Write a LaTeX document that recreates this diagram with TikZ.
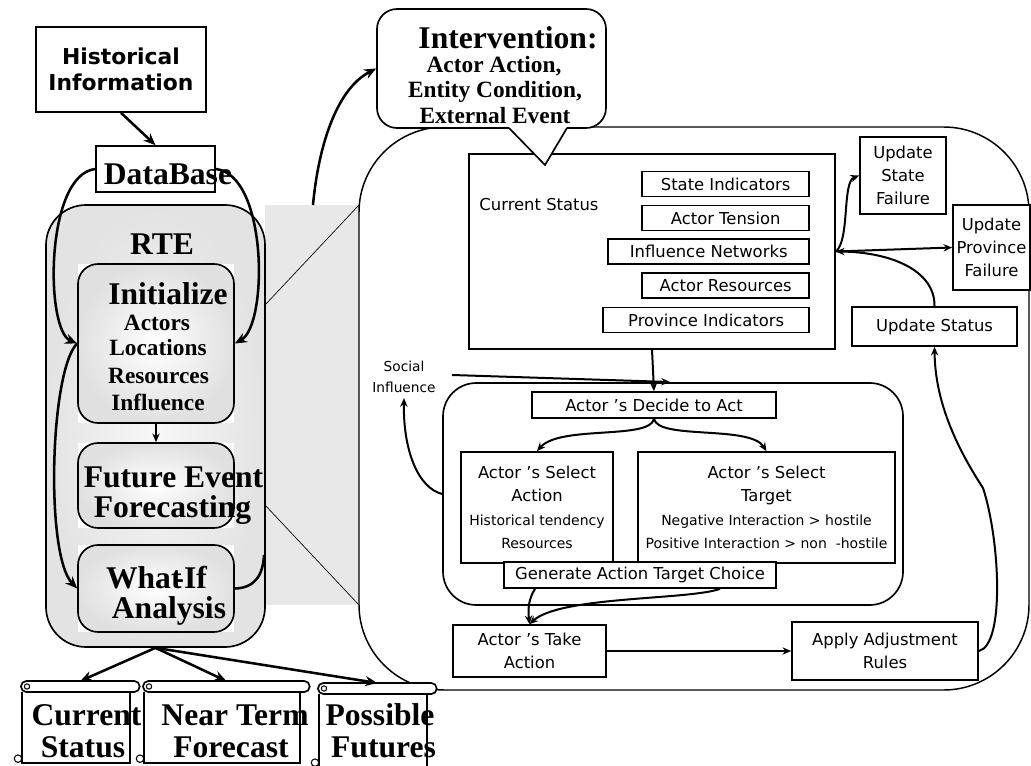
\documentclass[tikz,border=0pt]{standalone}
\usepackage{fontspec}
\setmainfont{Liberation Serif}
\newfontfamily\verd{DejaVu Sans}
\usetikzlibrary{arrows.meta}
\usetikzlibrary{calc}
\newcommand\smtxt{\fontsize{10.5}{15}\selectfont}

\begin{document}
\begin{tikzpicture}[x=0.75pt, y=-0.75pt, line width=1.25pt,
		sz/.style 2 args={minimum width=#1*0.75pt, minimum height=#2*0.75pt},
		box/.style={draw, fill=white, inner sep=0pt, align=center, font=\verd\fontsize{12.3}{17.5}\selectfont},
		stage/.style={draw, rounded corners=15pt, inner color=white, outer color=gray!24},
		big/.style={font=\bfseries\fontsize{23.7}{26}\selectfont, inner sep=0pt},
		mid/.style={font=\bfseries\fontsize{17.5}{20}\selectfont, inner sep=0pt},
		arr/.style={line width=1.9pt, -{Stealth[length=9pt, width=7.5pt]}},
		arrsm/.style={line width=1.5pt, -{Stealth[length=6.5pt, width=5.5pt]}},
		zoomln/.style={line width=0.5pt}]
	\useasboundingbox (0,0) rectangle (1031,766);
	\fill[gray!18] (265,205) rectangle (359,605);
	\draw[zoomln] (265,305) -- (359,205);
	\draw[zoomln] (265,505) -- (359,605);
	\coordinate (gtop) at (313,205);
	\node[draw, rounded corners=30pt, inner color=gray!6, outer color=gray!22, sz={219}{442}] (rte) at (155.5,426) {};
	\foreach \n/\y/\h in {init/343.5/159, fut/485.5/85, whatif/588.5/87} {
		\fill[white] (78,\y-\h/2) rectangle (234,\y+\h/2);
		\node[stage, sz={156}{\h}] (\n) at (156,\y) {};
	}
	\node[box, sz={170}{85}, font=\verd\bfseries\fontsize{16.4}{20}\selectfont] (hist) at (121,69.5) {Historical\\Information};
	\node[box, sz={119}{46}] (db) at (155.5,169) {};
	\node[draw, fill=white, line width=1.1pt, rounded corners=64pt, sz={670}{563}] (model) at (694,408.5) {};
	\node[box, sz={366}{195}] (cur) at (652,251.5) {};
	\node[font=\verd\fontsize{12.3}{14}\selectfont] (curlbl) at (539,205) {Current Status};
	\foreach \t/\w/\y [count=\i] in {State Indicators/167/184, Actor Tension/167/218, Influence Networks/201/251.5, Actor Resources/167/285.5, Province Indicators/206/320}
		\node[box, sz={\w}{25}, anchor=east] (ind\i) at (810,\y) {\t};
	\node[box, sz={86}{77}] (upstate) at (903,175.5) {Update\\State\\Failure};
	\node[box, sz={77}{85}] (upprov) at (991.5,247.5) {Update\\Province\\Failure};
	\node[box, sz={165}{39}] (upstatus) at (934.5,326.5) {Update Status};
	\node[draw, rounded corners=25pt, sz={460}{222}] (inner) at (673,494) {};
	\node[box, sz={244}{26}] (decide) at (654,405) {Actor ’s Decide to Act};
	\node[box, sz={152}{111}] (selact) at (537,507.5) {Actor ’s Select\\Action\\ \smtxt Historical tendency\\ \smtxt Resources};
	\node[box, sz={257}{111}] (seltgt) at (766.5,507.5) {Actor ’s Select\\Target\\ \smtxt Negative Interaction > hostile\\ \smtxt Positive Interaction > non~~-hostile};
	\node[box, sz={272}{26}] (gen) at (640,575) {Generate Action Target Choice};
	\node[box, sz={153}{52}] (take) at (529.5,651) {Actor ’s Take\\Action};
	\node[box, sz={186}{58}] (apply) at (885,651) {Apply Adjustment\\Rules};
	\node[align=center, font=\verd\fontsize{10.3}{15.75}\selectfont] (social) at (404,377) {Social\\Influence};
	\coordinate (sfrom) at (452,375);
	\coordinate (sto) at (670,382);
	% intervention callout
	\node[sz={229}{119}] (interv) at (491.5,68.5) {};
	\draw[fill=white, rounded corners=15pt] (377,9) rectangle (606,128);
	\fill[white] (509,127) -- (545,165) -- (567,127) -- cycle;
	\draw (509,128) -- (545,165) -- (567,128);
	% scrolls
	\foreach \n/\x/\w/\y/\h in {s1/21/117/681/80, s2/143/165/681/80, s3/318/117/683/82} {
		\node[sz={\w}{\h}, anchor=north west, inner sep=0pt] (\n) at (\x,\y) {};
		\draw[fill=white] ($(\n.north west)+(1,11)$) -- ($(\n.south west)+(1,0)$) -- ($(\n.south east)+(-10,0)$) -- ($(\n.north east)+(-10,11)$);
		\draw[fill=white, rounded corners=4pt] (\n.north west) rectangle ($(\n.north east)+(0,11)$);
		\draw[line width=0.8pt] ($(\n.north west)+(6,5.5)$) circle (2pt);
		\draw[line width=0.8pt] ($(\n.south west)+(-3,-4)$) circle (2.8pt);
	}
	% connectors
	\draw[arr] (hist.south) -- (db.north);
	\draw[arr] (db.west) .. controls (45,175) and (45,330) .. (init.west);
	\draw[arr] (db.east) .. controls (268,175) and (268,325) .. (init.east);
	\draw[arr] (init.west) .. controls (50,370) and (45,555) .. (whatif.west);
	\coordinate (wend) at (264,555);
	\draw[line width=1.9pt] (whatif.east) .. controls (255,588) and (263,575) .. (wend);
	\draw[arrsm] (init.south) -- (fut.north);
	\foreach \n in {s1,s2,s3}
		\draw[arr] (rte.south) -- (\n.north);
	\draw[arr] (gtop) .. controls (318,150) and (335,90) .. (interv.west);
	\draw[arrsm] (cur.south) -- (decide.north);
	\draw[arrsm] (sfrom) -- (sto);
	\draw[arrsm] (inner.west) .. controls (418,488) and (403,450) .. (social.south);
	\draw[arrsm] (decide.south) .. controls (650,440) and (560,425) .. (selact.north);
	\draw[arrsm] (decide.south) .. controls (658,440) and (750,425) .. (seltgt.north);
	\draw[arrsm] ($(gen.south)+(-105,0)$) .. controls (528,600) and (528,610) .. (take.north);
	\draw[arrsm] ($(gen.south)+(80,0)$) .. controls (690,600) and (560,596) .. (take.north);
	\draw[arrsm] (take.east) -- (apply.west);
	\draw[arrsm] (apply.east) .. controls (1005,645) and (1000,540) .. (983,488) .. controls (955,445) and (935,400) .. (upstatus.south);
	\draw[arrsm] (upstatus.north) .. controls (935,270) and (890,252) .. (cur.east);
	\draw[arrsm] (cur.east) .. controls (850,240) and (842,182) .. (upstate.west);
	\draw[arrsm] (cur.east) -- (upprov.west);
	% texts
	\foreach \t/\x/\y [count=\i] in {DataBase/168/185, RTE/162/255, Initialize/168/305, Future Event/173.5/487, Forecasting/172.5/517, What\kern-.25em-If/156.5/588, Analysis/169/618, Intervention:/508/49, Current/86.5/725, Status/83/757, Near Term/235/725, Forecast/231/757, Possible/380/725, Futures/383.5/757}
		\node[big, anchor=base] (big\i) at (\x,\y) {\t};
	\foreach \t/\x/\y [count=\i] in {Actors/157/330, Locations/158/356, Resources/158.5/383, Influence/158/410, {Actor Action,}/494/73, {Entity Condition,}/495/98, External Event/495/124}
		\node[mid, anchor=base] (mid\i) at (\x,\y) {\t};
\end{tikzpicture}
\end{document}
